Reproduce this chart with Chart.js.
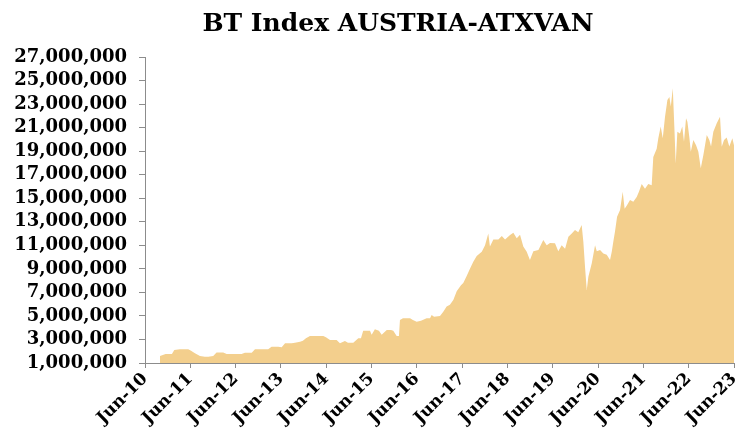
<!DOCTYPE html>
<html>
<head>
<meta charset="utf-8">
<title>BT Index AUSTRIA-ATXVAN</title>
<script src="https://cdn.jsdelivr.net/npm/chart.js@4.4.1/dist/chart.umd.min.js"></script>
<style>
  html, body { margin: 0; padding: 0; background: #ffffff; }
  #wrap { position: relative; width: 742px; height: 435px; }
</style>
</head>
<body>
<div id="wrap"><canvas id="atxChart"></canvas></div>
<script>
  // values (index level)
  const dates = [
    '2010-09-30', '2010-11-15', '2011-01-05', '2011-01-24', '2011-03-09', '2011-05-15', '2011-06-07', '2011-07-08',
    '2011-08-18', '2011-09-27', '2011-10-24', '2011-12-03', '2011-12-30', '2012-02-23', '2012-03-20', '2012-05-26',
    '2012-07-19', '2012-08-15', '2012-10-09', '2012-11-05', '2012-12-30', '2013-02-20', '2013-03-17', '2013-05-10',
    '2013-06-07', '2013-07-04', '2013-08-27', '2013-09-23', '2013-11-03', '2013-11-26', '2013-12-20', '2014-01-22',
    '2014-03-10', '2014-05-08', '2014-05-29', '2014-07-01', '2014-08-24', '2014-09-20', '2014-10-30', '2014-11-24',
    '2015-01-06', '2015-02-16', '2015-03-07', '2015-03-25', '2015-05-19', '2015-06-02', '2015-06-28', '2015-07-30',
    '2015-08-22', '2015-10-02', '2015-11-06', '2015-11-24', '2015-12-21', '2016-01-09', '2016-01-17', '2016-02-11',
    '2016-04-07', '2016-04-30', '2016-05-30', '2016-07-04', '2016-08-19', '2016-09-16', '2016-09-29', '2016-10-18',
    '2016-12-05', '2017-01-01', '2017-01-28', '2017-02-24', '2017-03-21', '2017-04-18', '2017-05-22', '2017-06-10',
    '2017-07-07', '2017-08-03', '2017-08-30', '2017-09-27', '2017-11-07', '2017-12-03', '2017-12-29', '2018-01-12',
    '2018-02-09', '2018-03-19', '2018-04-16', '2018-05-12', '2018-06-22', '2018-07-18', '2018-08-15', '2018-09-11',
    '2018-10-07', '2018-11-04', '2018-11-30', '2018-12-27', '2019-02-07', '2019-03-16', '2019-04-13', '2019-05-09',
    '2019-06-19', '2019-07-15', '2019-08-12', '2019-09-09', '2019-10-05', '2019-11-02', '2019-11-28', '2019-12-24',
    '2020-01-21', '2020-02-04', '2020-02-18', '2020-03-01', '2020-03-14', '2020-04-11', '2020-05-07', '2020-05-21',
    '2020-06-17', '2020-07-13', '2020-08-10', '2020-09-06', '2020-09-20', '2020-10-02', '2020-10-16', '2020-11-02',
    '2020-11-26', '2020-12-17', '2021-01-02', '2021-01-21', '2021-02-15', '2021-03-11', '2021-04-08', '2021-04-26',
    '2021-05-18', '2021-06-14', '2021-07-10', '2021-08-07', '2021-08-20', '2021-09-17', '2021-09-30', '2021-10-19',
    '2021-11-05', '2021-11-23', '2021-12-12', '2021-12-28', '2022-01-09', '2022-01-25', '2022-02-07', '2022-02-18',
    '2022-03-01', '2022-03-22', '2022-04-10', '2022-04-24', '2022-05-10', '2022-05-21', '2022-06-06', '2022-06-18',
    '2022-07-08', '2022-07-30', '2022-08-18', '2022-09-07', '2022-09-28', '2022-10-25', '2022-11-15', '2022-11-29',
    '2022-12-17', '2023-01-14', '2023-02-10', '2023-02-24', '2023-03-12', '2023-04-03', '2023-04-24', '2023-05-18',
    '2023-06-01'
  ];
  const values = [
    1.60, 1.77, 1.77, 2.10, 2.16, 2.16, 2.05, 1.82,
    1.60, 1.54, 1.54, 1.60, 1.90, 1.90, 1.77, 1.77,
    1.77, 1.88, 1.88, 2.16, 2.16, 2.16, 2.39, 2.39,
    2.33, 2.67, 2.67, 2.72, 2.81, 2.90, 3.10, 3.29,
    3.29, 3.29, 3.18, 2.95, 2.95, 2.67, 2.86, 2.72,
    2.72, 3.10, 3.10, 3.75, 3.75, 3.40, 3.86, 3.75,
    3.40, 3.80, 3.80, 3.75, 3.30, 3.30, 4.65, 4.80,
    4.80, 4.65, 4.50, 4.60, 4.80, 4.80, 5.08, 4.94,
    5.00, 5.36, 5.80, 5.95, 6.35, 7.10, 7.60, 7.80,
    8.40, 9.00, 9.60, 10.10, 10.46, 11.00, 12.00, 10.90,
    11.50, 11.50, 11.80, 11.50, 11.87, 12.07, 11.60, 11.90,
    10.90, 10.46, 9.75, 10.50, 10.60, 11.45, 11.00, 11.20,
    11.17, 10.50, 11.00, 10.70, 11.73, 12.00, 12.30, 12.10,
    12.72, 11.30, 9.10, 7.20, 8.33, 9.47, 11.00, 10.50,
    10.60, 10.30, 10.20, 9.75, 10.46, 11.30, 12.20, 13.43,
    14.00, 15.55, 14.10, 14.40, 14.85, 14.70, 15.10, 15.55,
    16.20, 15.80, 16.20, 16.10, 18.50, 19.20, 20.10, 21.10,
    20.10, 21.90, 23.35, 23.60, 22.80, 24.34, 21.10, 17.96,
    20.65, 20.50, 21.10, 19.80, 21.80, 21.50, 20.20, 18.95,
    19.95, 19.50, 18.95, 17.54, 18.67, 20.37, 19.95, 19.40,
    20.65, 21.37, 21.93, 19.38, 19.95, 20.17, 19.40, 20.10,
    19.50
  ].map(v => v * 1000000);
  const tickLabels = ['Jun-10', 'Jun-11', 'Jun-12', 'Jun-13', 'Jun-14', 'Jun-15', 'Jun-16',
                      'Jun-17', 'Jun-18', 'Jun-19', 'Jun-20', 'Jun-21', 'Jun-22', 'Jun-23'];
  const yTicks = [1000000, 3000000, 5000000, 7000000, 9000000, 11000000, 13000000,
                  15000000, 17000000, 19000000, 21000000, 23000000, 25000000, 27000000];
  const chartTitle = 'BT Index AUSTRIA-ATXVAN';

  // months counted from Jun-10
  function monthsFromStart(s) {
    const [y, m, d] = s.split('-').map(Number);
    return (y - 2010) * 12 + (m - 6) + (d - 1) / 30.44;
  }

  const points = dates.map((d, i) => ({ x: monthsFromStart(d), y: values[i] }));
  const axisColor = '#8c8c8c';

  // the original title sits a bit right of the canvas centre
  const titlePlugin = {
    id: 'offsetTitle',
    afterDraw(chart) {
      const ctx = chart.ctx;
      ctx.save();
      ctx.font = 'bold 25px "DejaVu Serif", serif';
      ctx.fillStyle = '#000';
      ctx.textAlign = 'center';
      ctx.textBaseline = 'alphabetic';
      ctx.fillText(chartTitle, 398, 31);
      ctx.restore();
    }
  };

  new Chart(document.getElementById('atxChart'), {
    type: 'line',
    data: {
      datasets: [{
        data: points,
        fill: 'start',
        backgroundColor: '#f3cf8d',
        borderWidth: 0,
        pointRadius: 0,
        tension: 0
      }]
    },
    options: {
      responsive: true,
      maintainAspectRatio: false,
      animation: false,
      layout: { padding: { left: 8, right: 8, top: 57, bottom: 0 } },
      plugins: {
        legend: { display: false },
        tooltip: { enabled: false },
        title: { display: false }
      },
      scales: {
        x: {
          type: 'linear',
          min: 0,
          max: (tickLabels.length - 1) * 12,
          afterBuildTicks(scale) {
            scale.ticks = tickLabels.map((_, i) => ({ value: i * 12 }));
          },
          afterFit(scale) {
            scale.height = 72;
            scale.paddingLeft = 0;
            scale.paddingRight = 0;
          },
          ticks: {
            autoSkip: false,
            maxRotation: 45,
            minRotation: 45,
            padding: 1,
            color: '#000',
            font: { family: '"DejaVu Serif", serif', weight: 'bold', size: 17 },
            callback: (v) => tickLabels[Math.round(v / 12)]
          },
          grid: { drawOnChartArea: false, drawTicks: true, tickLength: 5, color: axisColor },
          border: { display: true, color: axisColor, width: 1 }
        },
        y: {
          min: yTicks[0],
          max: yTicks[yTicks.length - 1],
          afterBuildTicks(scale) {
            scale.ticks = yTicks.map(v => ({ value: v }));
          },
          afterFit(scale) {
            scale.width = 137;
            scale.paddingTop = 0;
            scale.paddingBottom = 0;
          },
          ticks: {
            autoSkip: false,
            padding: 12,
            color: '#000',
            font: { family: '"DejaVu Serif", serif', weight: 'bold', size: 18, lineHeight: 1 },
            callback: (v) => v.toLocaleString('en-US')
          },
          grid: { drawOnChartArea: false, drawTicks: true, tickLength: 6, color: axisColor },
          border: { display: true, color: axisColor, width: 1 }
        }
      }
    },
    plugins: [titlePlugin]
  });
</script>
</body>
</html>
